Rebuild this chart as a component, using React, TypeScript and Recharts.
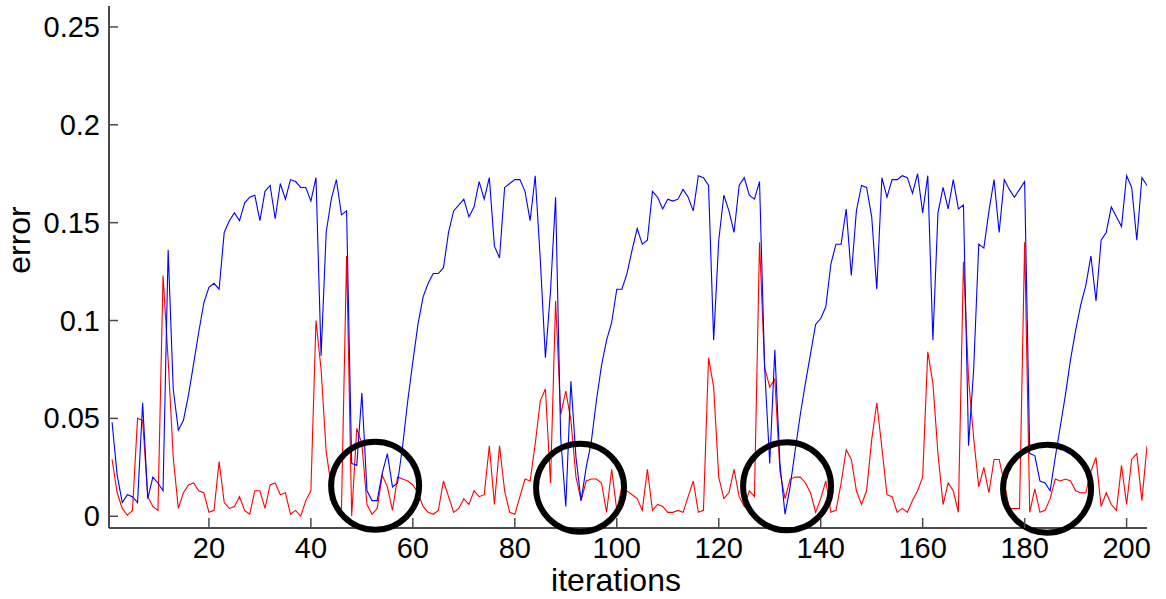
import React from 'react';
import { LineChart, Line, XAxis, YAxis, ReferenceDot } from 'recharts';

const blueError: number[] = [
  0.048, 0.021, 0.007, 0.011, 0.010, 0.007, 0.058, 0.009, 0.020, 0.017,
  0.013, 0.136, 0.065, 0.044, 0.049, 0.062, 0.078, 0.094, 0.109, 0.117,
  0.119, 0.116, 0.145, 0.151, 0.155, 0.151, 0.160, 0.163, 0.164, 0.151,
  0.166, 0.169, 0.152, 0.170, 0.162, 0.172, 0.171, 0.168, 0.168, 0.161,
  0.173, 0.082, 0.145, 0.162, 0.172, 0.154, 0.156, 0.027, 0.026, 0.063,
  0.013, 0.008, 0.008, 0.022, 0.032, 0.015, 0.017, 0.036, 0.059, 0.079,
  0.098, 0.112, 0.119, 0.124, 0.124, 0.127, 0.145, 0.156, 0.159, 0.162,
  0.153, 0.158, 0.171, 0.162, 0.173, 0.138, 0.132, 0.168, 0.170, 0.172,
  0.172, 0.166, 0.151, 0.174, 0.131, 0.081, 0.115, 0.163, 0.040, 0.005,
  0.069, 0.030, 0.008, 0.025, 0.038, 0.059, 0.077, 0.090, 0.099, 0.116,
  0.116, 0.124, 0.136, 0.147, 0.139, 0.141, 0.166, 0.163, 0.157, 0.162,
  0.161, 0.162, 0.167, 0.163, 0.156, 0.174, 0.173, 0.169, 0.090, 0.141,
  0.164, 0.156, 0.145, 0.169, 0.173, 0.164, 0.162, 0.171, 0.076, 0.027,
  0.085, 0.027, 0.001, 0.015, 0.034, 0.052, 0.068, 0.083, 0.098, 0.101,
  0.107, 0.129, 0.139, 0.139, 0.157, 0.123, 0.156, 0.169, 0.168, 0.153,
  0.116, 0.173, 0.163, 0.172, 0.172, 0.174, 0.173, 0.165, 0.175, 0.155,
  0.174, 0.090, 0.155, 0.168, 0.157, 0.172, 0.157, 0.159, 0.036, 0.075,
  0.139, 0.137, 0.156, 0.172, 0.145, 0.172, 0.167, 0.163, 0.167, 0.171,
  0.032, 0.031, 0.018, 0.017, 0.013, 0.030, 0.046, 0.062, 0.080, 0.095,
  0.108, 0.118, 0.133, 0.110, 0.141, 0.145, 0.158, 0.153, 0.148, 0.174,
  0.168, 0.141, 0.173, 0.169,
];

const redError: number[] = [
  0.029, 0.012, 0.004, 0.0005, 0.003, 0.050, 0.049, 0.010, 0.005, 0.003,
  0.123, 0.080, 0.030, 0.004, 0.012, 0.016, 0.017, 0.013, 0.012, 0.002,
  0.003, 0.028, 0.007, 0.004, 0.005, 0.010, 0.003, 0.001, 0.013, 0.013,
  0.004, 0.016, 0.017, 0.011, 0.012, 0.001, 0.003, 0.000, 0.008, 0.013,
  0.100, 0.075, 0.033, 0.015, 0.004, 0.004, 0.133, 0.000, 0.045, 0.037,
  0.006, 0.001, 0.004, 0.021, 0.015, 0.003, 0.020, 0.019, 0.018, 0.016,
  0.012, 0.005, 0.002, 0.001, 0.003, 0.018, 0.010, 0.002, 0.004, 0.009,
  0.006, 0.013, 0.010, 0.011, 0.036, 0.006, 0.036, 0.013, 0.002, 0.001,
  0.010, 0.019, 0.018, 0.037, 0.059, 0.065, 0.017, 0.110, 0.052, 0.064,
  0.049, 0.020, 0.008, 0.018, 0.019, 0.019, 0.017, 0.002, 0.024, 0.003,
  0.015, 0.013, 0.011, 0.009, 0.003, 0.024, 0.003, 0.006, 0.005, 0.002,
  0.002, 0.003, 0.002, 0.010, 0.018, 0.002, 0.003, 0.081, 0.066, 0.020,
  0.009, 0.012, 0.024, 0.010, 0.005, 0.013, 0.010, 0.140, 0.076, 0.066,
  0.070, 0.023, 0.009, 0.019, 0.020, 0.020, 0.017, 0.012, 0.002, 0.009,
  0.018, 0.002, 0.003, 0.017, 0.034, 0.029, 0.013, 0.006, 0.013, 0.039,
  0.058, 0.035, 0.011, 0.010, 0.002, 0.004, 0.002, 0.008, 0.013, 0.020,
  0.084, 0.068, 0.032, 0.006, 0.017, 0.013, 0.002, 0.130, 0.070, 0.040,
  0.015, 0.025, 0.012, 0.029, 0.029, 0.017, 0.004, 0.004, 0.004, 0.140,
  0.002, 0.014, 0.002, 0.003, 0.009, 0.019, 0.018, 0.019, 0.018, 0.013,
  0.012, 0.012, 0.023, 0.030, 0.005, 0.012, 0.006, 0.003, 0.026, 0.006,
  0.029, 0.032, 0.008, 0.036,
];

const iterations: number[] = blueError.map((_, k) => k + 1);

const xTicks: number[] = [20, 40, 60, 80, 100, 120, 140, 160, 180, 200];
const yTicks: number[] = [0, 0.05, 0.1, 0.15, 0.2, 0.25];

// highlighted regions (iteration, error) marked by black circles
const circleIters: number[] = [52.6, 92.8, 133.4, 184.4];
const circleErrors: number[] = [0.0156, 0.0146, 0.0153, 0.0141];

const data = iterations.map((it, k) => ({ it, blue: blueError[k], red: redError[k] }));

const FONT = '"Liberation Sans", Arial, Helvetica, sans-serif';
const FS = 29;
const LFS = 32;
const AXIS = '#4a4a4a';

const YTick = (props: any) => {
  const { x, y, payload } = props;
  const ax = x + 9;
  return (
    <g>
      <line x1={ax} x2={ax + 9} y1={y} y2={y} stroke={AXIS} strokeWidth={1.5} />
      <text x={x} y={y} textAnchor="end" dominantBaseline="central" fontFamily={FONT} fontSize={FS} fill="#000">
        {String(payload.value)}
      </text>
    </g>
  );
};

const XTick = (props: any) => {
  const { x, y, payload } = props;
  const ay = y - 30;
  return (
    <g>
      <line x1={x} x2={x} y1={ay} y2={ay - 10} stroke={AXIS} strokeWidth={1.5} />
      <text x={x} y={y} textAnchor="middle" fontFamily={FONT} fontSize={FS} fill="#000">
        {String(payload.value)}
      </text>
    </g>
  );
};

const YLabel = (props: any) => {
  const vb = props.viewBox || { x: 0, y: 0, width: 0, height: 0 };
  const cx = vb.x + 30;
  const cy = vb.y + vb.height / 2 - 27;
  return (
    <text x={cx} y={cy} transform={`rotate(-90 ${cx} ${cy})`} textAnchor="middle" fontFamily={FONT} fontSize={LFS} fill="#000">
      error
    </text>
  );
};

const XLabel = (props: any) => {
  const vb = props.viewBox || { x: 0, y: 0, width: 0, height: 0 };
  const cx = vb.x + vb.width / 2 - 12;
  const cy = vb.y + 63;
  return (
    <text x={cx} y={cy} textAnchor="middle" fontFamily={FONT} fontSize={LFS} fill="#000">
      iterations
    </text>
  );
};

export default function App() {
  return (
    <div style={{ position: 'absolute', left: 0, top: 0, width: 1166, height: 599, background: '#fff' }}>
      <LineChart width={1166} height={599} data={data} margin={{ top: 6, right: 19, bottom: 0, left: 0 }}>
        <XAxis
          dataKey="it"
          type="number"
          domain={[0.4, 204]}
          allowDataOverflow
          ticks={xTicks}
          height={71}
          tickSize={0}
          tickMargin={30}
          tick={<XTick />}
          axisLine={{ stroke: AXIS, strokeWidth: 2 }}
          tickLine={false}
          interval={0}
          label={<XLabel />}
        />
        <YAxis
          type="number"
          domain={[-0.006, 0.2607]}
          allowDataOverflow
          ticks={yTicks}
          width={109}
          tickSize={0}
          tickMargin={9}
          tick={<YTick />}
          axisLine={{ stroke: AXIS, strokeWidth: 2 }}
          tickLine={false}
          interval={0}
          label={<YLabel />}
        />
        <Line type="linear" dataKey="red" stroke="#ff0000" strokeWidth={1.1} dot={false} isAnimationActive={false} />
        <Line type="linear" dataKey="blue" stroke="#0000ff" strokeWidth={1.1} dot={false} isAnimationActive={false} />
        {circleIters.map((cx, k) => (
          <ReferenceDot
            key={k}
            x={cx}
            y={circleErrors[k]}
            r={44}
            fill="none"
            stroke="#000"
            strokeWidth={6}
            ifOverflow="visible"
          />
        ))}
      </LineChart>
    </div>
  );
}
